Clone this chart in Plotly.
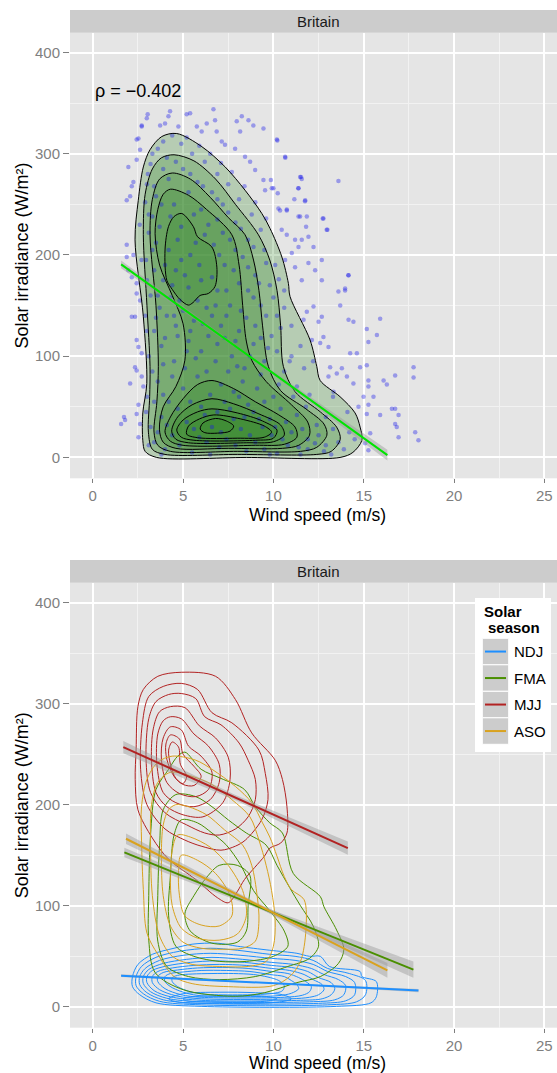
import plotly.graph_objects as go

W, H = 557, 1073

# ---------------- text / ticks ----------------
x_ticks = [0, 5, 10, 15, 20, 25]
y_ticks = [0, 100, 200, 300, 400]
facet_label = "Britain"
rho_label = "ρ = −0.402"
x_title = "Wind speed (m/s)"
y_title = "Solar irradiance (W/m²)"
legend_title = ["Solar", "season"]
seasons = ["NDJ", "FMA", "MJJ", "ASO"]
season_colors = ["#1E8FFF", "#4A8F00", "#B22222", "#D9A21F"]

# ---------------- top panel: scatter (wind, irradiance) ----------------
top_points = [
    (3.04,339),(4.28,342),(4.19,337),(5.20,339),(5.39,340),(6.68,344),(3.73,328),(4.00,330),(2.71,328),(4.74,327),
    (5.76,327),(6.03,322),(6.31,330),(6.77,333),(6.86,322),(7.97,332),(8.25,337),(8.62,333),(8.89,328),(8.16,322),
    (9.45,325),(10.19,314),(7.14,312),(7.32,309),(7.88,305),(8.43,297),(8.71,292),(8.99,284),(9.45,274),(9.54,264),
    (9.91,266),(10.65,297),(11.48,277),(11.57,275),(13.6,273),(11.39,266),(11.76,254),(10.28,246),(10.74,244),(11.39,238),
    (11.85,238),(12.77,236),(12.95,225),(10.46,225),(10.74,220),(11.20,215),(11.57,215),(11.94,218),(12.22,208),(11.39,208),
    (11.02,202),(12.68,195),(11.94,192),(12.31,185),(12.68,175),(14.15,180),(13.6,164),(13.97,165),(11.57,175),(11.2,188),
    (10.65,195),(2.53,315),(2.62,304),(2.43,294),(10.22,313),(10.66,296),(11.53,277),(11.38,266),(11.16,255),(11.75,253),
    (10.0,266),(9.86,274),(10.24,261),(12.73,236),(12.99,225),(11.48,238),(11.81,228),(10.74,245),(10.37,244),(14.16,180),
    (13.97,167),(13.7,150),(14.16,136),(14.43,134),(15.17,127),(15.91,137),(15.26,114),(15.73,121),(14.25,103),(14.62,103),
    (14.8,89),(15.17,91),(13.79,88),(17.76,89),(17.76,79),(16.74,81),(16.1,76),(16.28,72),(15.26,76),(15.26,70),
    (15.54,60),(15.26,52),(15.91,42),(16.56,48),(16.74,48),(16.93,42),(16.74,33),(16.83,30),(16.93,20),(17.85,25),
    (18.03,17),(15.36,24),(15.08,14),(15.26,7),(15.17,43),(14.71,50),(14.99,60),(14.43,73),(14.07,80),(13.51,83),
    (13.14,89),(13.05,80),(13.33,65),(12.77,119),(12.59,113),(12.5,134),(12.68,139),(12.22,149),(11.85,144),(11.67,136),
    (12.13,116),(13.05,109),(1.88,198),(2.25,200),(2.16,178),(2.43,172),(2.43,162),(2.62,155),(2.16,139),(2.34,139),
    (2.43,116),(2.53,109),(2.71,103),(2.34,89),(2.43,86),(2.07,73),(2.71,80),(2.8,70),(2.53,52),(2.43,43),
    (1.73,40),(1.79,37),(1.57,33),(2.62,33),(2.53,20),(1.88,210),(1.97,185),(1.97,287),(2.25,272),(2.07,258),
    (1.88,254),(2.16,268),(2.43,314),(2.71,327),(2.99,335),
    (3.2,290),(3.6,305),(4.1,296),(4.9,310),(5.5,300),(6.2,292),(6.9,280),(7.5,270),(8.1,255),(8.8,240),
    (9.3,225),(3.0,270),(3.5,258),(4.2,275),(5.0,285),(5.8,272),(6.6,262),(7.2,250),(7.9,232),(8.6,215),
    (9.5,205),(10.1,190),(3.1,240),(3.7,228),(4.5,250),(5.3,262),(6.0,245),(6.9,235),(7.6,215),(8.3,198),
    (9.0,180),(9.8,170),(3.3,205),(4.0,190),(4.7,215),(5.4,200),(6.2,220),(7.0,200),(7.8,185),(8.6,165),
    (9.3,150),(10.2,140),(3.0,175),(3.6,160),(4.4,170),(5.1,180),(5.9,190),(6.6,178),(7.4,165),(8.2,145),
    (9.0,130),(9.9,120),(2.9,140),(3.4,125),(4.1,140),(4.8,155),(5.6,135),(6.3,148),(7.1,130),(7.9,115),
    (8.7,100),(9.5,95),(10.6,85),(11.3,70),(3.1,100),(3.8,110),(4.5,95),(5.3,115),(6.0,105),(6.8,95),
    (7.5,85),(8.3,75),(9.1,68),(10.0,60),(11.8,50),(12.9,40),(3.0,60),(3.6,75),(4.2,55),(5.0,68),
    (5.8,80),(6.5,62),(7.3,55),(8.1,60),(8.9,45),(9.8,38),(10.7,35),(11.6,28),(12.5,22),(13.6,15),
    (14.2,25),(3.2,30),(3.8,40),(4.4,22),(5.2,35),(5.9,20),(6.6,30),(7.4,18),(8.2,28),(9.0,15),
    (9.9,22),(10.8,12),(11.9,8),(12.8,6),(4.0,8),(5.5,5),(7.0,10),(8.5,6),(10.2,4),(3.4,15),
    (6.2,42),(7.8,38),(9.4,30),(4.7,120),(6.4,120),(8.0,90),(2.6,230),(2.7,195),(10.6,165),(11.0,130),
    (11.5,110),(12.2,95),(13.3,60),(14.1,45),
    (3.3,300),(3.9,312),(4.4,318),(5.2,316),(5.9,308),(6.5,300),(7.1,291),(7.7,282),(8.4,268),(9.0,252),
    (9.6,236),(3.05,280),(3.4,268),(3.9,285),(4.6,292),(5.4,280),(6.1,268),(6.9,255),(7.5,242),(8.2,226),
    (8.9,208),(9.6,192),(10.3,176),(2.9,252),(3.3,238),(3.8,250),(4.3,238),(4.9,228),(5.6,240),(6.4,230),
    (7.2,222),(7.9,205),(8.6,188),(9.2,172),(10.0,158),(10.6,148),(3.1,222),(3.5,212),(4.2,205),(4.9,195),
    (5.7,212),(6.7,210),(7.3,190),(8.1,172),(8.9,158),(9.6,140),(10.4,128),(2.95,195),(3.4,185),(3.9,175),
    (4.6,185),(5.3,168),(6.0,175),(6.9,165),(7.6,150),(8.5,138),(9.3,118),(10.2,105),(10.9,95),(3.2,160),
    (3.7,148),(4.3,158),(5.0,145),(5.8,155),(6.6,140),(7.4,140),(8.1,125),(8.9,112),(9.7,108),(11.0,100),
    (11.7,88),(3.0,125),(3.5,138),(4.0,118),(4.6,130),(5.4,125),(6.1,132),(6.9,112),(7.7,100),(8.4,88),
    (9.3,82),(10.3,72),(11.1,60),(12.0,62),(3.3,85),(3.9,92),(4.4,80),(5.1,88),(5.7,98),(6.3,85),
    (7.1,72),(7.8,65),(8.6,52),(9.5,55),(10.4,48),(11.3,42),(12.4,32),(13.3,28),(2.95,45),(3.4,55),
    (3.9,62),(4.7,48),(5.4,55),(6.0,50),(6.9,45),(7.6,48),(8.4,40),(9.2,38),(10.1,30),(11.0,25),
    (11.9,18),(12.9,12),(13.9,8),(14.5,18),(3.1,12),(3.6,25),(4.1,32),(4.8,12),(5.6,28),(6.3,15),
    (7.1,25),(7.9,12),(8.7,22),(9.5,8),(10.5,18),(11.4,10),(12.3,14),(13.2,3),(3.8,3),(6.5,3),
    (9.8,3),(11.5,3),(4.5,140),(6.8,150),(5.2,105),(7.3,118),
]

# ---------------- top panel: density contours (wind, irradiance) ----------------
top_c1 = [(4.65,320),(6.04,307),(7.33,287),(8.43,264),(9.36,241),(9.82,226),(10.47,198),(10.83,172),(10.92,159),
          (12.03,116),(12.4,90),(12.59,76),(13.69,60),(14.52,44),(14.8,30),(14.9,17),(14.4,5),(13.69,0),(8.5,0),(3.54,0),
          (2.9,6),(2.77,17),(2.77,44),(2.99,73),(2.8,139),(2.34,215),(2.52,254),(2.8,287),(3.17,304),(3.82,317)]
top_c2 = [(4.5,299),(5.6,293),(6.8,275),(7.9,250),(9.17,220),(9.8,195),(10.2,165),(10.4,130),(10.55,90),(11.2,65),
          (12.6,45),(13.5,30),(13.7,18),(13.2,6),(12.4,3),(8.0,3),(4.0,3),(3.3,8),(3.08,25),(3.15,60),(3.17,90),
          (3.0,150),(2.8,220),(2.9,260),(3.3,285),(3.8,296)]
top_c3 = [(4.4,281),(5.4,275),(6.5,257),(7.5,237),(8.43,220),(8.9,195),(9.2,165),(9.4,130),(9.72,90),(10.4,66),
          (11.8,48),(12.8,33),(12.96,22),(12.4,10),(11.5,6),(8.0,6),(4.3,6),(3.6,12),(3.39,25),(3.55,55),(3.63,90),
          (3.5,150),(3.17,220),(3.3,255),(3.7,275)]
top_c4 = [(4.3,265),(5.3,259),(6.3,245),(7.7,220),(8.1,190),(8.3,150),(8.5,115),(8.8,96),(9.6,75),(11.0,52),
          (11.9,35),(12.0,22),(11.4,12),(10.5,9),(7.5,9),(4.6,9),(3.9,15),(3.69,28),(3.9,50),(4.6,70),(5.1,96),
          (5.0,132),(4.4,160),(3.7,190),(3.45,221),(3.6,245),(3.9,260)]
top_c5a = [(4.93,241),(5.57,228),(5.8,218),(6.59,208),(6.87,188),(6.77,169),(6.4,162),(5.94,160),(5.55,153),
           (5.29,150.5),(4.83,156),(4.4,166),(4.1,175),(4.0,205),(4.19,228),(4.5,238)]
top_c5b = [(6.6,76),(7.8,68),(9.0,55),(10.3,42),(11.2,30),(11.3,20),(10.6,13),(9.0,12),(5.0,12),(4.3,16),
           (4.0,25),(4.3,40),(5.0,58),(5.8,72)]
top_c6 = [(6.6,58),(7.8,53),(9.2,43),(10.4,32),(10.6,22),(10.0,15.5),(8.5,14.5),(5.3,14.5),(4.6,18),(4.37,26),
          (4.7,40),(5.5,52)]
top_c7 = [(6.6,48),(8.0,44),(9.4,36),(10.2,27),(10.0,19),(9.0,17),(5.6,17),(4.9,20),(4.65,27),(5.0,37),(5.8,45)]
top_c8 = [(6.7,42),(8.2,38),(9.5,31),(9.9,25),(9.5,20),(8.0,19),(5.8,19.5),(5.2,23),(5.3,31),(5.9,38)]
top_c9 = [(6.8,38.5),(7.4,36),(7.8,31),(7.6,26),(6.9,24),(6.2,24.5),(5.95,28),(6.1,34)]
top_contours = [top_c1, top_c2, top_c3, top_c4, top_c5a, top_c5b, top_c6, top_c7, top_c8, top_c9]

# top regression (line ends + confidence band)
top_fit_x = [1.57, 16.31]
top_fit_y = [190.7, 2.3]
top_band_x = [1.57, 8.9, 16.31]
top_band_hi = [194.5, 98.2, 7.5]
top_band_lo = [186.9, 95.8, -2.9]

# ---------------- bottom panel: contours by season ----------------
ndj_contours = [
    [(2.2,30),(2.5,42),(3.3,52),(4.5,58),(5.5,62),(6.9,63),(8.0,60),(9.8,56),(11.3,53),(12.0,50),(12.6,50),(13.1,40),
     (14.8,35),(14.9,30),(15.7,25),(15.7,10),(15.4,4),(13.5,0.5),(6.0,0.5),(3.5,4),(2.6,12),(2.2,20)],
    [(2.4,30),(2.7,40),(3.5,49),(4.8,55),(6.5,58),(8.0,56),(9.8,52),(11.2,50),(12.2,46),(13.0,38),(14.2,33),(15.1,26),
     (15.1,12),(14.6,5),(13.0,2),(6.0,2),(3.7,5.5),(2.8,13),(2.4,21)],
    [(2.6,30),(2.9,38),(3.7,46),(5.0,51),(6.5,53),(8.2,51),(9.9,48),(11.2,46),(12.2,42),(13.0,35),(14.0,30),(14.5,24),
     (14.5,12),(14.0,6),(12.5,3.5),(6.0,3.5),(3.9,7),(3.0,14),(2.6,22)],
    [(2.8,30),(3.1,37),(3.9,43),(5.2,47),(6.6,49),(8.3,47),(9.9,44),(11.1,42),(12.1,38),(12.8,32),(13.6,27),(14.0,21),
     (13.9,12),(13.4,7),(12.0,5),(6.0,5),(4.1,8.5),(3.2,15),(2.8,23)],
    [(3.0,30),(3.3,36),(4.1,40.5),(5.4,44),(6.8,45.5),(8.4,44),(9.9,41),(11.0,39),(11.9,35),(12.5,29),(13.2,24),
     (13.4,18),(13.2,12),(12.7,8),(11.5,6.5),(6.0,6.5),(4.3,10),(3.4,16),(3.0,24)],
    [(3.3,30),(3.6,35),(4.4,38.5),(5.6,41),(7.0,42),(8.5,41),(9.9,38),(10.9,36),(11.7,32),(12.2,27),(12.7,22),
     (12.8,17),(12.5,12),(12.0,9.5),(11.0,8),(6.0,8),(4.6,11),(3.7,17),(3.3,24)],
    [(3.6,30),(3.9,34),(4.7,36.5),(5.8,38.5),(7.2,39),(8.6,38),(9.9,35),(10.8,33),(11.4,29),(11.8,25),(12.1,20),
     (12.0,15),(11.6,11.5),(10.6,9.5),(6.0,9.5),(4.9,12),(4.0,18),(3.6,25)],
    [(4.0,30),(4.3,33),(5.0,34.5),(6.0,36),(7.4,36),(8.7,35),(9.8,32),(10.6,30),(11.0,26),(11.3,22),(11.4,18),
     (11.0,13.5),(10.2,11),(6.0,11),(5.2,13.5),(4.4,19),(4.0,25)],
    [(4.4,29),(4.8,31.5),(5.5,32.5),(6.6,33),(7.8,33),(8.9,32),(9.7,29.5),(10.3,26),(10.6,21),(10.5,16),(9.8,13),
     (6.2,12.5),(5.4,15),(4.7,20),(4.4,25)],
    [(5.0,13),(7.0,14.5),(9.0,14),(10.5,12),(11.0,8),(10.2,4.5),(7.0,3.5),(4.8,4.5),(4.2,8)],
    [(5.5,10),(7.5,11),(9.5,10.5),(10.2,8),(9.5,5.5),(7.0,5),(5.2,6),(5.0,8)],
]
fma_contours = [
    [(5.1,252),(6.0,235),(7.1,226),(8.4,215),(9.0,198),(9.8,182),(10.5,172),(11.1,132),(12.6,109),(12.8,99),(13.5,76),
     (13.9,57),(13.6,43),(12.6,30),(11.3,24),(9.5,14),(7.9,10.5),(5.0,17),(3.45,34),(3.1,66),(3.1,110),(3.2,170),
     (3.5,215),(4.2,235),(4.7,248)],
    [(4.6,210),(5.7,208),(6.6,198),(7.5,185),(8.5,172),(9.6,160),(10.2,140),(10.9,118),(11.5,100),(12.2,80),(12.5,60),
     (12.0,48),(10.8,40),(9.0,30),(7.0,27),(5.3,30),(4.1,40),(3.6,65),(3.6,110),(3.7,160),(3.9,195)],
    [(4.9,185),(5.8,182),(6.6,172),(7.4,160),(8.2,140),(8.9,115),(9.8,95),(10.6,75),(10.8,60),(10.0,50),(8.5,45),
     (7.0,45),(5.6,50),(4.6,60),(4.2,90),(4.3,130),(4.5,170)],
    [(7.0,140),(8.0,140),(8.7,130),(8.6,100),(8.5,75),(8.0,64),(6.6,63),(5.4,75),(5.1,92),(5.6,110),(6.3,128)],
]
mjj_contours = [
    [(4.9,331),(6.8,327),(7.9,304),(8.8,271),(10.1,244),(10.5,225),(10.75,198),(10.75,172),(10.4,162),(9.8,157),
     (9.5,149),(8.4,126),(8.0,114),(7.5,103),(6.9,108),(5.7,126),(4.2,146),(3.3,167),(2.5,195),(2.35,225),(2.4,255),
     (2.5,297),(2.8,314),(3.6,327)],
    [(4.9,320),(5.8,314),(6.6,291),(7.7,281),(9.2,254),(9.55,231),(9.7,205),(9.35,185),(8.45,165),(7.9,159),(7.1,155),
     (6.0,159),(5.1,165),(4.0,176),(3.0,200),(2.65,235),(2.75,281),(3.1,307),(3.9,317)],
    [(4.9,310),(5.7,305),(6.2,287),(7.1,279),(8.1,261),(8.6,244),(9.0,225),(9.0,205),(8.6,188),(7.9,176),(7.0,170),
     (6.2,172),(5.2,180),(4.0,192),(3.2,212),(2.95,245),(3.1,285),(3.5,302),(4.2,309)],
    [(4.3,297),(5.1,296),(5.9,278),(6.8,266),(7.5,247),(7.6,225),(7.2,202),(6.1,188),(5.0,190),(4.1,198),(3.5,212),
     (3.25,245),(3.35,275),(3.7,292)],
    [(4.3,287),(4.9,285),(5.6,270),(6.4,258),(7.0,240),(7.0,222),(6.5,205),(5.6,198),(4.6,202),(3.9,212),(3.55,240),
     (3.6,270),(3.9,283)],
    [(4.3,277),(4.9,274),(5.3,258),(6.0,248),(6.6,232),(6.4,215),(5.7,208),(4.8,211),(4.1,222),(3.8,245),(3.9,266)],
    [(4.3,269),(4.8,265),(5.0,250),(5.6,238),(6.0,228),(5.6,219),(5.0,220),(4.5,228),(4.1,245),(4.05,260)],
    [(4.4,262),(4.75,257),(4.85,240),(5.2,228),(5.0,221),(4.6,226),(4.3,240),(4.2,254)],
]
aso_contours = [
    [(4.4,248),(5.7,244),(6.6,235),(7.9,218),(8.8,202),(9.4,182),(9.8,168),(10.2,149),(10.6,129),(11.0,116),(11.7,106),
     (11.8,76),(11.5,45),(10.9,30),(10.0,21),(7.5,20),(5.5,23),(4.5,30),(3.6,52),(3.0,73),(2.8,116),(2.7,165),
     (2.7,198),(3.0,225),(3.6,242)],
    [(4.3,232),(5.5,228),(6.6,220),(7.7,205),(8.7,188),(9.2,165),(9.6,140),(9.9,115),(10.1,85),(10.0,60),(9.6,45),
     (8.6,40),(7.0,40),(5.5,42),(4.4,50),(3.7,70),(3.3,110),(3.2,160),(3.25,200),(3.6,222)],
    [(4.6,200),(5.3,198),(6.3,190),(7.3,175),(8.3,160),(8.8,140),(9.1,110),(9.2,85),(9.0,65),(8.3,58),(7.2,57),
     (6.0,58),(5.0,64),(4.3,80),(3.9,110),(3.8,150),(3.9,180),(4.2,195)],
    [(4.7,170),(5.4,168),(6.5,158),(7.5,140),(8.3,115),(8.5,90),(8.0,72),(7.0,66),(5.8,68),(4.9,78),(4.4,100),
     (4.3,130),(4.4,155)],
    [(4.9,150),(5.8,145),(6.8,132),(7.6,110),(7.7,90),(7.0,80),(6.0,81),(5.1,90),(4.8,110),(4.75,135)],
]
season_contours = [ndj_contours, fma_contours, mjj_contours, aso_contours]

# bottom regression lines (ends) and confidence bands (start, middle, end)
fit_x = [[1.57, 18.03], [1.75, 17.75], [1.69, 14.12], [1.84, 16.31]]
fit_y = [[30.9, 16.1], [152.8, 36.9], [256.9, 157.1], [166.3, 36.2]]
band_x = [[1.57, 9.8, 18.03], [1.75, 9.5, 17.75], [1.69, 7.9, 14.12], [1.84, 9.0, 16.31]]
band_hi = [[32.2, 23.9, 17.8], [157.5, 98.5, 45.0], [263.0, 209.5, 163.6], [171.5, 103.8, 43.5]]
band_lo = [[29.6, 23.1, 14.4], [148.1, 94.9, 28.8], [251.0, 204.5, 150.6], [161.1, 100.0, 28.9]]

# ---------------- layout geometry (pixels) ----------------
PL, PR = 70, 557
TOP_T, TOP_B = 32.7, 478.3
BOT_T, BOT_B = 582.7, 1027.7
XR = [-1.26, 25.7]
YR = [-20.6, 419.6]


def fx(px):
    return px / W


def fy(py):
    return 1 - py / H


fig = go.Figure()
FONT = "Liberation Sans, Arial, sans-serif"

# top panel traces: density fills, then points, then contour lines, then fit
for c in top_contours:
    cc = c + [c[0]]
    fig.add_trace(go.Scatter(
        x=[p[0] for p in cc], y=[p[1] for p in cc], mode="lines", fill="toself",
        fillcolor="rgba(55,135,45,0.27)",
        line=dict(color="rgba(0,0,0,0)", width=0, shape="spline", smoothing=0.9),
        xaxis="x", yaxis="y", showlegend=False, hoverinfo="skip"))
fig.add_trace(go.Scatter(
    x=[p[0] for p in top_points], y=[p[1] for p in top_points], mode="markers",
    marker=dict(size=4.5, color="rgba(25,25,235,0.38)", line=dict(width=0)),
    xaxis="x", yaxis="y", showlegend=False, hoverinfo="skip"))
for c in top_contours:
    cc = c + [c[0]]
    fig.add_trace(go.Scatter(
        x=[p[0] for p in cc], y=[p[1] for p in cc], mode="lines",
        line=dict(color="black", width=1, shape="spline", smoothing=0.9),
        xaxis="x", yaxis="y", showlegend=False, hoverinfo="skip"))
fig.add_trace(go.Scatter(
    x=top_band_x + top_band_x[::-1], y=top_band_hi + top_band_lo[::-1], mode="lines",
    fill="toself", fillcolor="rgba(153,153,153,0.45)", line=dict(width=0),
    xaxis="x", yaxis="y", showlegend=False, hoverinfo="skip"))
fig.add_trace(go.Scatter(
    x=top_fit_x, y=top_fit_y, mode="lines", line=dict(color="#00E400", width=2),
    xaxis="x", yaxis="y", showlegend=False))

# bottom panel traces
for si, conts in enumerate(season_contours):
    for c in conts:
        cc = c + [c[0]]
        fig.add_trace(go.Scatter(
            x=[p[0] for p in cc], y=[p[1] for p in cc], mode="lines",
            line=dict(color=season_colors[si], width=1, shape="spline", smoothing=0.9),
            xaxis="x2", yaxis="y2", showlegend=False, hoverinfo="skip"))
for si in range(len(seasons)):
    fig.add_trace(go.Scatter(
        x=band_x[si] + band_x[si][::-1], y=band_hi[si] + band_lo[si][::-1], mode="lines",
        fill="toself", fillcolor="rgba(153,153,153,0.45)", line=dict(width=0),
        xaxis="x2", yaxis="y2", showlegend=False, hoverinfo="skip"))
for si in range(len(seasons)):
    fig.add_trace(go.Scatter(
        x=fit_x[si], y=fit_y[si], mode="lines", line=dict(color=season_colors[si], width=2),
        xaxis="x2", yaxis="y2", showlegend=False, name=seasons[si]))

axis_common = dict(
    showline=False, zeroline=False, ticks="outside", ticklen=6, tickwidth=1.3,
    tickcolor="#7F7F7F", gridcolor="white", gridwidth=1.8,
    tickfont=dict(family=FONT, size=15, color="#7F7F7F"),
)
xa = dict(axis_common, range=XR, tickvals=x_ticks, domain=[fx(PL), fx(PR)], ticklen=4,
          minor=dict(tick0=0, dtick=2.5, showgrid=True, gridcolor="#F2F2F2", gridwidth=1))
ya = dict(axis_common, range=YR, tickvals=y_ticks,
          minor=dict(tick0=0, dtick=50, showgrid=True, gridcolor="#F2F2F2", gridwidth=1))

fig.update_layout(
    width=W, height=H, margin=dict(l=0, r=0, t=0, b=0),
    paper_bgcolor="white", plot_bgcolor="#E5E5E5", showlegend=False,
    xaxis=dict(xa, anchor="y"),
    yaxis=dict(ya, anchor="x", domain=[fy(TOP_B), fy(TOP_T)]),
    xaxis2=dict(xa, anchor="y2"),
    yaxis2=dict(ya, anchor="x2", domain=[fy(BOT_B), fy(BOT_T)]),
)

shapes = []
annos = []
for (st, sb) in [(10, TOP_T), (560, BOT_T)]:
    shapes.append(dict(type="rect", xref="paper", yref="paper", x0=fx(PL), x1=fx(PR),
                       y0=fy(sb), y1=fy(st), fillcolor="#CCCCCC", line=dict(width=0), layer="below"))
    annos.append(dict(text=facet_label, xref="paper", yref="paper", x=fx(318), y=fy((st + sb) / 2),
                      showarrow=False, font=dict(family=FONT, size=15, color="#1A1A1A"),
                      xanchor="center", yanchor="middle"))

for (xt_y, yt_c) in [(515, (TOP_T + TOP_B) / 2), (1063, (BOT_T + BOT_B) / 2)]:
    annos.append(dict(text=x_title, xref="paper", yref="paper", x=fx(317), y=fy(xt_y),
                      showarrow=False, font=dict(family=FONT, size=17.5, color="black"),
                      xanchor="center", yanchor="middle"))
    annos.append(dict(text=y_title, xref="paper", yref="paper", x=fx(22), y=fy(yt_c),
                      showarrow=False, textangle=-90, font=dict(family=FONT, size=18, color="black"),
                      xanchor="center", yanchor="middle"))

annos.append(dict(text=rho_label, xref="x", yref="y", x=0.0, y=362, showarrow=False,
                  xanchor="left", yanchor="middle", font=dict(family=FONT, size=18, color="black")))

# manual legend (bottom panel)
shapes.append(dict(type="rect", xref="paper", yref="paper", x0=fx(475), x1=fx(551),
                   y0=fy(752), y1=fy(598), fillcolor="white", line=dict(width=0)))
annos.append(dict(text="<b>" + legend_title[0] + "</b>", xref="paper", yref="paper", x=fx(482), y=fy(611),
                  showarrow=False, xanchor="left", yanchor="middle", font=dict(family=FONT, size=15, color="black")))
annos.append(dict(text="<b>" + legend_title[1] + "</b>", xref="paper", yref="paper", x=fx(486), y=fy(627),
                  showarrow=False, xanchor="left", yanchor="middle", font=dict(family=FONT, size=15, color="black")))
key_top = 638.3
key_h = 26.5
for i, s in enumerate(seasons):
    y0 = key_top + i * key_h
    shapes.append(dict(type="rect", xref="paper", yref="paper", x0=fx(482.3), x1=fx(508.7),
                       y0=fy(y0 + key_h), y1=fy(y0), fillcolor="#CCCCCC", line=dict(color="white", width=1)))
    shapes.append(dict(type="line", xref="paper", yref="paper", x0=fx(485), x1=fx(506),
                       y0=fy(y0 + key_h / 2), y1=fy(y0 + key_h / 2), line=dict(color=season_colors[i], width=2)))
    annos.append(dict(text=s, xref="paper", yref="paper", x=fx(512), y=fy(y0 + key_h / 2),
                      showarrow=False, xanchor="left", yanchor="middle",
                      font=dict(family=FONT, size=15, color="black")))

fig.update_layout(shapes=shapes, annotations=annos)
fig.write_html("out.html")
